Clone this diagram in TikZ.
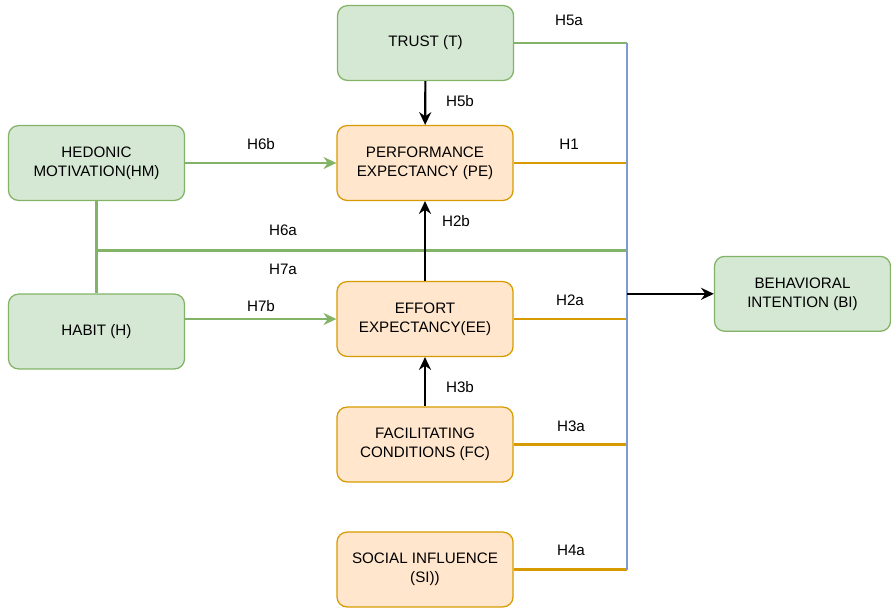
\documentclass[tikz,border=0pt]{standalone}
\usepackage{fontspec}
\setmainfont{Liberation Sans}
\usetikzlibrary{arrows.meta}
\definecolor{gfill}{HTML}{D5E8D4}
\definecolor{gdraw}{HTML}{82B366}
\definecolor{ofill}{HTML}{FFE6CC}
\definecolor{odraw}{HTML}{D79B00}
\definecolor{bdraw}{HTML}{7E9BCF}

\begin{document}
\begin{tikzpicture}[x=0.025cm, y=-0.025cm,
  box/.style={rounded corners=0.25cm, minimum width=4.4cm, minimum height=1.87cm, align=center, line width=0.9pt, font=\fontsize{10.8}{13.5}\selectfont},
  gbox/.style={box, draw=gdraw, fill=gfill},
  obox/.style={box, draw=odraw, fill=ofill},
  lbl/.style={font=\fontsize{10.8}{13}\selectfont},
  gline/.style={draw=gdraw, line width=1.5pt},
  oline/.style={draw=odraw, line width=1.5pt},
  arr/.style={-{Stealth[length=0.32cm, width=0.3cm]}, line width=1.5pt}]
\useasboundingbox (0,0) rectangle (891,608);
\node[gbox] (T) at (425.5,43) {TRUST (T)};
\node[gbox] (HM) at (96.5,163) {HEDONIC\\MOTIVATION(HM)};
\node[obox] (PE) at (425,163) {PERFORMANCE\\EXPECTANCY (PE)};
\node[gbox] (H) at (96.5,331.5) {HABIT (H)};
\node[obox] (EE) at (425,319) {EFFORT\\EXPECTANCY(EE)};
\node[obox] (FC) at (425,444.5) {FACILITATING\\CONDITIONS (FC)};
\node[obox] (SI) at (425,569.5) {SOCIAL INFLUENCE\\(SI))};
\node[gbox] (BI) at (802.5,293.8) {BEHAVIORAL\\INTENTION (BI)};
\coordinate (bustop) at (627,43);
\coordinate (busbot) at (627,569.5);
\coordinate (busmid) at (627,293.8);
\coordinate (hj) at (96.5,250.5);
\draw[gline] (T) -- (T -| bustop);
\draw[oline] (PE) -- (PE -| bustop);
\draw[oline] (EE) -- (EE -| bustop);
\draw[oline] (FC) -- (FC -| bustop);
\draw[oline] (SI) -- (SI -| bustop);
\draw[gline] (HM) -- (H);
\draw[gline] (hj) -- (hj -| bustop);
\draw[draw=bdraw, line width=1.5pt] (bustop) -- (busbot);
\draw[arr, gdraw] (HM) -- (PE);
\draw[arr, gdraw] (H.east |- EE) -- (EE);
\draw[arr] (T) -- (PE);
\draw[arr] (EE) -- (PE);
\draw[arr] (FC) -- (EE);
\draw[arr] (busmid) -- (BI);
\node[lbl] (l5a) at (569,20) {H5a};
\node[lbl] (l1) at (569,144) {H1};
\node[lbl] (l2a) at (570,300) {H2a};
\node[lbl] (l3a) at (571,426) {H3a};
\node[lbl] (l4a) at (571,550) {H4a};
\node[lbl] (l5b) at (460,101) {H5b};
\node[lbl] (l2b) at (456,221) {H2b};
\node[lbl] (l3b) at (460,387) {H3b};
\node[lbl] (l6b) at (261,144) {H6b};
\node[lbl] (l7b) at (261,306) {H7b};
\node[lbl] (l6a) at (283,230) {H6a};
\node[lbl] (l7a) at (283,269) {H7a};
\end{tikzpicture}
\end{document}
